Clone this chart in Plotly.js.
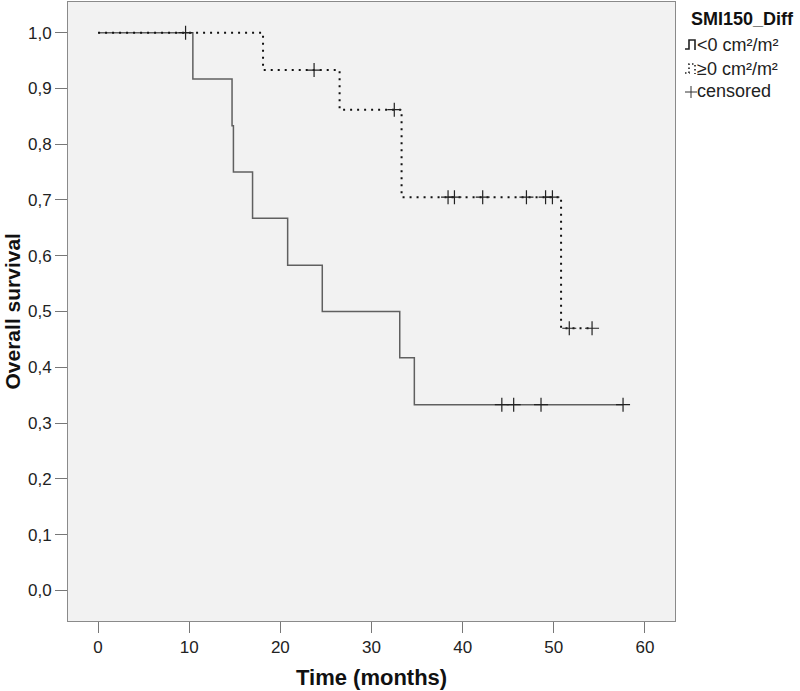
<!DOCTYPE html>
<html>
<head>
<meta charset="utf-8">
<script src="https://cdn.plot.ly/plotly-3.0.1.min.js"></script>
<style>html,body{margin:0;padding:0;background:#fff;}#chart{width:800px;height:691px;}</style>
</head>
<body>
<div id="chart"></div>
<script>
// ---- data (Kaplan-Meier steps) ----
const groupNames = ["<0 cm²/m²", "≥0 cm²/m²"];
const legendTitle = "SMI150_Diff";
const censoredLabel = "censored";

// group <0 (solid line)
const negTime = [0, 10.4, 14.7, 14.85, 16.95, 20.8, 24.6, 33.1, 34.7, 57.6];
const negSurv = [1, 0.917, 0.833, 0.75, 0.667, 0.583, 0.5, 0.417, 0.333, 0.333];
const negCensTime = [44.3, 45.6, 48.6, 57.6];
const negCensSurv = [0.333, 0.333, 0.333, 0.333];

// group >=0 (dotted line)
const posTime = [0, 18.1, 26.5, 33.3, 50.8, 54.2];
const posSurv = [1, 0.933, 0.862, 0.705, 0.47, 0.47];
const posCensTime = [9.6, 23.7, 32.5, 38.4, 39.1, 42.2, 47.0, 49.1, 49.85, 51.7, 54.2];
const posCensSurv = [1, 0.933, 0.862, 0.705, 0.705, 0.705, 0.705, 0.705, 0.705, 0.47, 0.47];

const xTicks = [0, 10, 20, 30, 40, 50, 60];
const yTicks = [0, 0.1, 0.2, 0.3, 0.4, 0.5, 0.6, 0.7, 0.8, 0.9, 1.0];

// ---- layout geometry ----
const W = 800, H = 691;
const M = {l: 68, r: 125, t: 2, b: 70};
const PW = W - M.l - M.r, PH = H - M.t - M.b;
const px = x => (x - M.l) / PW;          // pixel -> paper x
const py = y => (H - M.b - y) / PH;      // pixel -> paper y
const FONT = 'Arial, "Liberation Sans", sans-serif';

const censorMarker = {symbol: 'cross-thin', size: 10, color: '#222', line: {color: '#222', width: 1.2}};

const traces = [
  {x: negTime, y: negSurv, type: 'scatter', mode: 'lines', line: {shape: 'hv', color: '#606060', width: 1.5}, hoverinfo: 'skip'},
  {x: posTime, y: posSurv, type: 'scatter', mode: 'lines', line: {shape: 'hv', color: '#111', width: 2, dash: '2px,5px'}, hoverinfo: 'skip'},
  {x: negCensTime, y: negCensSurv, type: 'scatter', mode: 'markers', marker: censorMarker, hoverinfo: 'skip'},
  {x: posCensTime, y: posCensSurv, type: 'scatter', mode: 'markers', marker: censorMarker, hoverinfo: 'skip'}
];

function pathStr(pts) {
  return pts.map((p, i) => (i ? 'L' : 'M') + px(p[0]).toFixed(5) + ',' + py(p[1]).toFixed(5)).join(' ');
}
const stepIcon = [[685, 49], [689, 49], [689, 40], [695, 40], [695, 50]];
const stepIcon2 = [[685, 73], [689, 73], [689, 64], [695, 64], [695, 74]];

const axisCommon = {
  showline: true, mirror: true, linecolor: '#8a8a8a', linewidth: 1,
  showgrid: false, zeroline: false, ticks: 'outside', tickcolor: '#777', tickwidth: 1,
  tickfont: {family: FONT, size: 17, color: '#222'}, fixedrange: true
};

const layout = {
  width: W, height: H,
  margin: {l: M.l, r: M.r, t: M.t, b: M.b, pad: 0},
  paper_bgcolor: '#ffffff', plot_bgcolor: '#f2f2f2',
  separators: ',.', showlegend: false,
  font: {family: FONT, color: '#222'},
  xaxis: Object.assign({}, axisCommon, {range: [-3.3, 63.3], tickmode: 'array', tickvals: xTicks, ticklen: 11}),
  yaxis: Object.assign({}, axisCommon, {range: [-0.055, 1.055], tickmode: 'array', tickvals: yTicks, tickformat: '.1f', ticklen: 12}),
  annotations: [
    {text: '<b>Overall survival</b>', textangle: -90, xref: 'paper', yref: 'paper', x: px(12), y: 0.5, xanchor: 'center', yanchor: 'middle', showarrow: false, font: {family: FONT, size: 21, color: '#111'}},
    {text: '<b>Time (months)</b>', xref: 'paper', yref: 'paper', x: 0.5, y: py(677), xanchor: 'center', yanchor: 'middle', showarrow: false, font: {family: FONT, size: 22, color: '#111'}},
    {text: '<b>' + legendTitle + '</b>', xref: 'paper', yref: 'paper', x: px(689), y: py(18.5), xanchor: 'left', yanchor: 'middle', showarrow: false, font: {family: FONT, size: 18, color: '#111'}},
    {text: groupNames[0], xref: 'paper', yref: 'paper', x: px(695), y: py(45), xanchor: 'left', yanchor: 'middle', showarrow: false, font: {family: FONT, size: 18, color: '#222'}},
    {text: groupNames[1], xref: 'paper', yref: 'paper', x: px(695), y: py(69), xanchor: 'left', yanchor: 'middle', showarrow: false, font: {family: FONT, size: 18, color: '#222'}},
    {text: censoredLabel, xref: 'paper', yref: 'paper', x: px(695), y: py(91), xanchor: 'left', yanchor: 'middle', showarrow: false, font: {family: FONT, size: 18, color: '#222'}}
  ],
  shapes: [
    {type: 'path', xref: 'paper', yref: 'paper', path: pathStr(stepIcon), line: {color: '#222', width: 1.6}},
    {type: 'path', xref: 'paper', yref: 'paper', path: pathStr(stepIcon2), line: {color: '#222', width: 1.6, dash: '1.5px,2.5px'}},
    {type: 'line', xref: 'paper', yref: 'paper', x0: px(685), x1: px(697), y0: py(92), y1: py(92), line: {color: '#333', width: 1}},
    {type: 'line', xref: 'paper', yref: 'paper', x0: px(691), x1: px(691), y0: py(86), y1: py(98), line: {color: '#333', width: 1}}
  ]
};

Plotly.newPlot('chart', traces, layout, {displayModeBar: false, staticPlot: true});
</script>
</body>
</html>
